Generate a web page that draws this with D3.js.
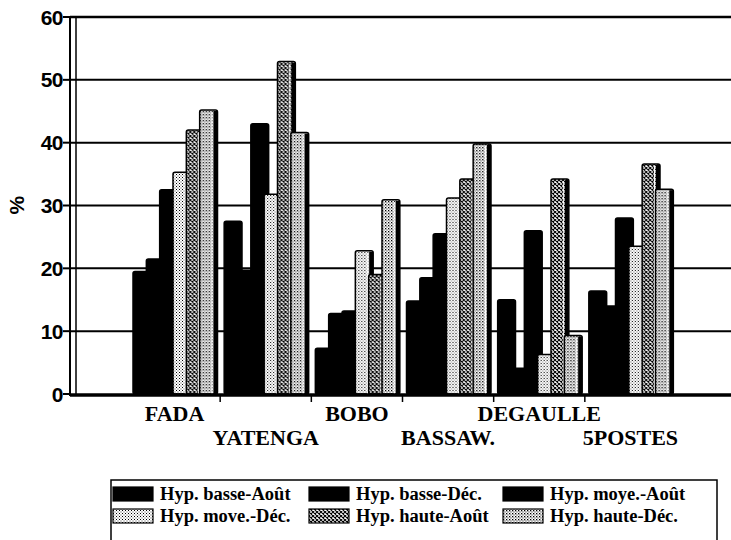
<!doctype html>
<html>
<head>
<meta charset="utf-8">
<title>Hypotheses by site</title>
<script src="https://cdnjs.cloudflare.com/ajax/libs/d3/7.8.5/d3.min.js"></script>
<style>
  body { margin: 0; background: #fff; }
  svg text { fill: #000; }
  .num { font-family: "Liberation Sans", sans-serif; font-weight: bold; font-size: 21px; letter-spacing: -0.5px; }
  .cat { font-family: "Liberation Serif", serif; font-weight: bold; font-size: 22px; }
  .leg { font-family: "Liberation Serif", serif; font-weight: bold; font-size: 18.5px; }
</style>
</head>
<body>
<svg id="chart" width="731" height="540"></svg>
<script>
// data
const sites = ['FADA', 'YATENGA', 'BOBO', 'BASSAW.', 'DEGAULLE', '5POSTES'];
const series = ['Hyp. basse-Août', 'Hyp. basse-Déc.', 'Hyp. moye.-Août',
                'Hyp. move.-Déc.', 'Hyp. haute-Août', 'Hyp. haute-Déc.'];
const basseAout = [19.5, 27.5, 7.3, 14.8, 15, 16.4];
const basseDec  = [21.5, 19.7, 12.8, 18.5, 4.1, 14];
const moyeAout  = [32.5, 43, 13.2, 25.5, 26, 28];
const moyeDec   = [35.3, 31.8, 22.8, 31.2, 6.3, 23.5];
const hauteAout = [42, 52.9, 19, 34.2, 34.2, 36.6];
const hauteDec  = [45.2, 41.6, 30.9, 39.8, 9.3, 32.6];
const yTicks = [0, 10, 20, 30, 40, 50, 60];

const values = [basseAout, basseDec, moyeAout, moyeDec, hauteAout, hauteDec];
const fills = ['#000', '#000', '#000', 'url(#dots)', 'url(#hatch)', 'url(#dots2)'];

const svg = d3.select('#chart');

// patterns for the grey bars
const defs = svg.append('defs');
const p1 = defs.append('pattern').attr('id', 'dots')
  .attr('width', 3).attr('height', 3).attr('patternUnits', 'userSpaceOnUse');
p1.append('rect').attr('width', 3).attr('height', 3).attr('fill', '#fff');
p1.append('rect').attr('width', 1).attr('height', 1).attr('fill', '#000');
p1.append('rect').attr('x', 1.5).attr('y', 1.5).attr('width', 1).attr('height', 1).attr('fill', '#444');

const p2 = defs.append('pattern').attr('id', 'hatch')
  .attr('width', 4).attr('height', 4).attr('patternUnits', 'userSpaceOnUse');
p2.append('rect').attr('width', 4).attr('height', 4).attr('fill', '#fff');
p2.append('path').attr('d', 'M0,0L4,4M4,0L0,4').attr('stroke', '#000').attr('stroke-width', 1.1);

const p3 = defs.append('pattern').attr('id', 'dots2')
  .attr('width', 3).attr('height', 3).attr('patternUnits', 'userSpaceOnUse');
p3.append('rect').attr('width', 3).attr('height', 3).attr('fill', '#fff');
p3.append('rect').attr('width', 1.3).attr('height', 1.3).attr('fill', '#000');
p3.append('rect').attr('x', 1.5).attr('y', 1.5).attr('width', 1).attr('height', 1).attr('fill', '#000');

// scales
const left = 70, right = 731;
const y = d3.scaleLinear().domain([0, 60]).range([394, 17]);
const x = d3.scaleBand().domain(sites).range([129, 676]);
const xi = d3.scaleBand().domain(series).range([4, 84]);
const barW = xi.bandwidth() + 4.5;

// gridlines (60 is the frame top)
svg.append('g').selectAll('line')
  .data(yTicks.filter(d => d > 0))
  .join('line')
  .attr('x1', left).attr('x2', right)
  .attr('y1', d => y(d)).attr('y2', d => y(d))
  .attr('stroke', '#000')
  .attr('stroke-width', d => d === 60 ? 2.5 : 2);

// bars
const rows = [];
series.forEach((s, si) => sites.forEach((c, ci) => rows.push({ s, c, si, v: values[si][ci] })));

const bars = svg.append('g').selectAll('g')
  .data(rows)
  .join('g')
  .attr('transform', d => `translate(${x(d.c) + xi(d.s)},0)`);

bars.append('rect')
  .attr('x', 0)
  .attr('y', d => y(d.v))
  .attr('width', barW)
  .attr('height', d => y(0) - y(d.v))
  .attr('rx', 2)
  .attr('fill', d => fills[d.si])
  .attr('stroke', '#000')
  .attr('stroke-width', 1.5);

// dark right side of each bar
bars.append('rect')
  .attr('x', barW - 4)
  .attr('y', d => y(d.v) + 1)
  .attr('width', 4)
  .attr('height', d => y(0) - y(d.v) - 1)
  .attr('fill', '#000');
bars.filter(d => d.si >= 3).append('line')
  .attr('x1', barW - 5.5).attr('x2', barW - 5.5)
  .attr('y1', d => y(d.v) + 2).attr('y2', y(0))
  .attr('stroke', '#fff').attr('stroke-width', 1);

// axes
svg.append('line').attr('x1', left).attr('x2', left)
  .attr('y1', y(60) - 1).attr('y2', y(0) + 2)
  .attr('stroke', '#000').attr('stroke-width', 2);
svg.append('line').attr('x1', left + 6).attr('x2', left + 6)
  .attr('y1', y(60)).attr('y2', y(0))
  .attr('stroke', '#000').attr('stroke-width', 1.5);
svg.append('line').attr('x1', left).attr('x2', right)
  .attr('y1', y(0) + 1).attr('y2', y(0) + 1)
  .attr('stroke', '#000').attr('stroke-width', 3.5);

// y ticks and labels
const yAxis = svg.append('g');
yAxis.selectAll('line')
  .data(yTicks)
  .join('line')
  .attr('x1', left - 7).attr('x2', left)
  .attr('y1', d => y(d)).attr('y2', d => y(d))
  .attr('stroke', '#000').attr('stroke-width', 2);
yAxis.selectAll('text')
  .data(yTicks)
  .join('text')
  .attr('class', 'num')
  .attr('x', left - 7)
  .attr('y', d => y(d))
  .attr('dy', '0.36em')
  .attr('text-anchor', 'end')
  .text(d => d);

svg.append('text')
  .attr('class', 'num')
  .attr('transform', `translate(24,${y(30)}) rotate(-90)`)
  .attr('text-anchor', 'middle')
  .text('%');

// x ticks between sites, staggered labels
svg.append('g').selectAll('line')
  .data(sites.slice(1))
  .join('line')
  .attr('x1', d => x(d)).attr('x2', d => x(d))
  .attr('y1', y(0) + 2).attr('y2', y(0) + 8)
  .attr('stroke', '#000').attr('stroke-width', 1.5);

svg.append('g').selectAll('text')
  .data(sites)
  .join('text')
  .attr('class', 'cat')
  .attr('x', d => x(d) + x.bandwidth() / 2)
  .attr('y', (d, i) => i % 2 === 0 ? 421 : 445)
  .attr('text-anchor', 'middle')
  .text(d => d);

// legend
const legX = [113, 309, 503];
const legY = [494, 516];
svg.append('rect')
  .attr('x', 111).attr('y', 480)
  .attr('width', 606).attr('height', 70)
  .attr('fill', 'none').attr('stroke', '#000').attr('stroke-width', 1.5);

const leg = svg.append('g').selectAll('g')
  .data(series)
  .join('g')
  .attr('transform', (d, i) => `translate(${legX[i % 3]},${legY[Math.floor(i / 3)]})`);
leg.append('rect')
  .attr('x', 0).attr('y', -7)
  .attr('width', 40).attr('height', 14)
  .attr('fill', (d, i) => fills[i])
  .attr('stroke', '#000').attr('stroke-width', 1.2);
leg.append('text')
  .attr('class', 'leg')
  .attr('x', 47)
  .attr('dy', '0.35em')
  .text(d => d);
</script>
</body>
</html>
